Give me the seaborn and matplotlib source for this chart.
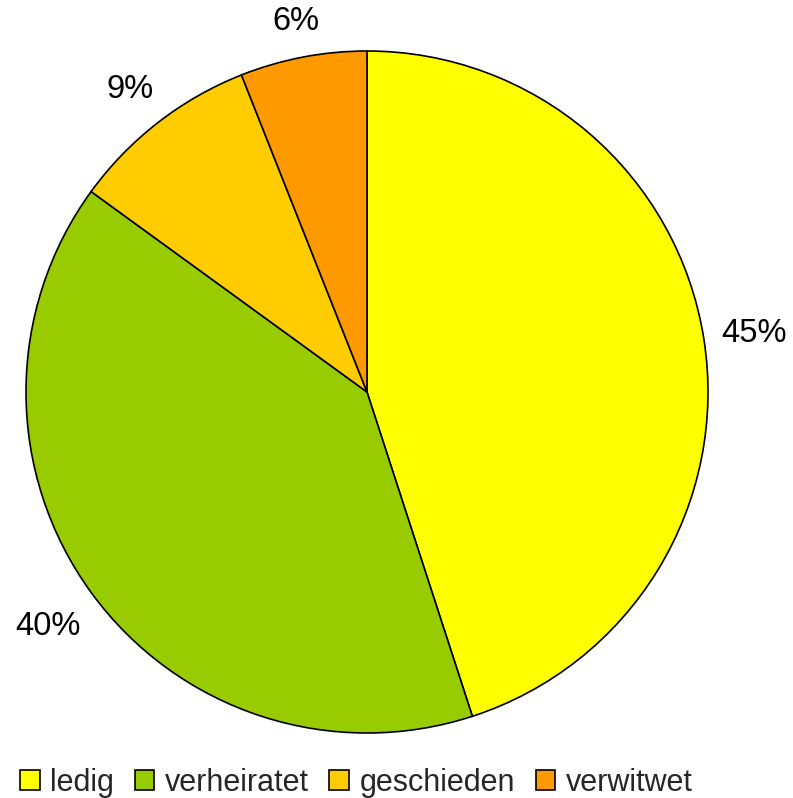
import matplotlib
matplotlib.use("Agg")
import matplotlib.pyplot as plt
import seaborn as sns
from matplotlib.patches import Patch

# data
categories = ["ledig", "verheiratet", "geschieden", "verwitwet"]
shares = [45, 40, 9, 6]
colors = ["#FFFF00", "#99CC00", "#FFCC00", "#FF9900"]
# how far out each percent label sits (in pie radii)
label_dist = [1.148, 1.156, 1.133, 1.113]

sns.set_theme(style="white")
plt.rcParams["font.family"] = ["Liberation Sans", "DejaVu Sans"]

fig = plt.figure(figsize=(7.93, 7.98), dpi=100)
# pie area: centre ~ (367, 392) px, radius ~341 px
ax = fig.add_axes([26 / 793, (798 - 392 - 341) / 798, 682 / 793, 682 / 798])

wedges, texts, autotexts = ax.pie(
    shares,
    colors=colors,
    startangle=90,
    counterclock=False,
    autopct="%1.0f%%",
    pctdistance=1.0,
    wedgeprops=dict(edgecolor="black", linewidth=1.2),
    textprops=dict(fontsize=23.5, color="black"),
)
# push labels outward, each by its own distance
for t, d in zip(autotexts, label_dist):
    x, y = t.get_position()
    t.set_position((x * d, y * d - 0.008))

ax.set_xlim(-1, 1)
ax.set_ylim(-1, 1)
ax.axis("off")

handles = [Patch(facecolor=c, edgecolor="black", linewidth=1.2) for c in colors]
fig.legend(handles, categories, loc="lower left", bbox_to_anchor=(20 / 793, 0.0),
           ncol=4, frameon=False, fontsize=22, handlelength=0.65, handleheight=0.65,
           handletextpad=0.33, columnspacing=0.68, borderpad=0, borderaxespad=0)

fig.savefig("out.png", dpi=100)
